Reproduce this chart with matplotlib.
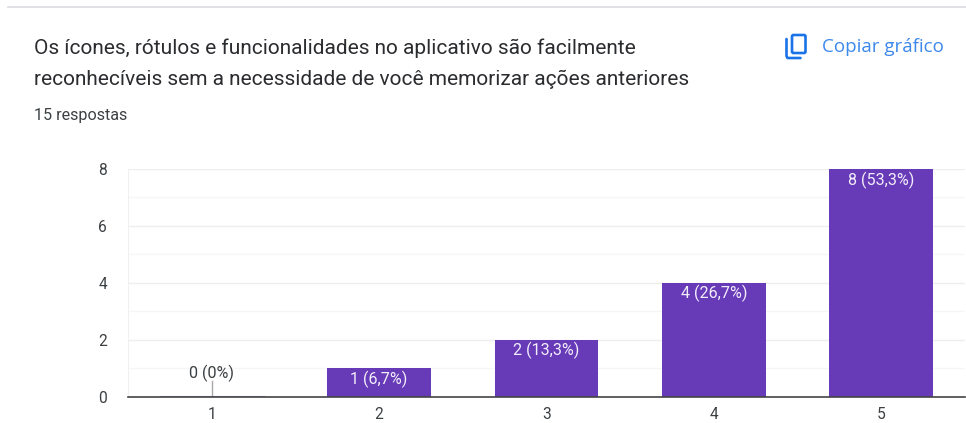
import matplotlib
matplotlib.use("Agg")
import matplotlib.pyplot as plt
from matplotlib.patches import FancyBboxPatch

plt.rcParams['font.family'] = ['Roboto', 'DejaVu Sans']

W, H = 966, 423

# Chart data
categories = ['1', '2', '3', '4', '5']
counts = [0, 1, 2, 4, 8]
bar_labels = ['0 (0%)', '1 (6,7%)', '2 (13,3%)', '4 (26,7%)', '8 (53,3%)']
major_ticks = [0, 2, 4, 6, 8]
minor_ticks = [1, 3, 5, 7]

title_lines = ['Os ícones, rótulos e funcionalidades no aplicativo são facilmente',
               'reconhecíveis sem a necessidade de você memorizar ações anteriores']
subtitle = '15 respostas'
copy_label = 'Copiar gráfico'

purple = '#673ab7'
blue = '#1a73e8'

fig = plt.figure(figsize=(W / 100, H / 100), dpi=100, facecolor='white')

# Overlay in pixel coordinates for the card header
bg = fig.add_axes([0, 0, 1, 1])
bg.set_xlim(0, W)
bg.set_ylim(H, 0)
bg.axis('off')
bg.plot([8, 966], [7.5, 7.5], color='#dadce0', lw=1.2)
bg.text(34, 48, title_lines[0], fontsize=15.0, color='#2b2c2f', va='center')
bg.text(34, 79, title_lines[1], fontsize=15.0, color='#2b2c2f', va='center')
bg.text(34, 115.5, subtitle, fontsize=11.6, color='#3c4043', va='center')
bg.text(821.5, 47.5, copy_label, fontsize=13.5, color=blue, va='center', family=['Open Sans', 'DejaVu Sans'], alpha=0.85)

# Copy icon
bg.add_patch(FancyBboxPatch((792, 35), 13.5, 18, boxstyle='round,pad=0,rounding_size=1.5',
                            fill=False, ec=blue, lw=1.9))
bg.plot([786.5, 786.5, 787.5, 800.5], [39, 56, 58, 58], color=blue, lw=1.9, solid_capstyle='round')

# Chart axes: x runs 128-965 px, y runs 396.5-169 px
ax = fig.add_axes([128 / W, 1 - 396.5 / H, (965 - 128) / W, (396.5 - 169) / H])
ax.set_facecolor('none')
ax.set_xlim(-0.5, 4.5)
ax.set_ylim(0, 8)

x = range(len(categories))
ax.bar(x, counts, width=0.62, color=purple, zorder=3)

# Zero height bar still shows a faint line and a leader
ax.plot([-0.31, 0.31], [0.015, 0.015], color=purple, lw=0.8, alpha=0.5, zorder=3)
ax.plot([0, 0], [0, 0.55], color='#a8a8a8', lw=1, zorder=3)

for i, (c, lab) in enumerate(zip(counts, bar_labels)):
    if c == 0:
        ax.text(i, 0.8, lab, ha='center', va='center', fontsize=11.6, color='#3c4043', zorder=4)
    else:
        ax.annotate(lab, (i, c), xytext=(0, -8), textcoords='offset points', ha='center',
                    va='center', fontsize=11.6, color='#f3eefb', zorder=4)

ax.set_xticks(list(x))
ax.set_xticklabels(categories)
ax.set_yticks(major_ticks)
ax.set_yticks(minor_ticks, minor=True)
ax.tick_params(axis='both', which='both', length=0, labelsize=11.2, labelcolor='#3c4043')
ax.tick_params(axis='x', pad=7.5)
ax.tick_params(axis='y', pad=15)
ax.grid(axis='y', which='major', color='#eeeeee', lw=1, zorder=0)
ax.grid(axis='y', which='minor', color='#f6f6f6', lw=1, zorder=0)

for s in ['top', 'right']:
    ax.spines[s].set_visible(False)
ax.spines['left'].set_color('#f0f0f0')
ax.spines['bottom'].set_color('#444444')
ax.spines['bottom'].set_linewidth(1.2)
ax.spines['bottom'].set_zorder(5)

fig.savefig('out.png', dpi=100)
